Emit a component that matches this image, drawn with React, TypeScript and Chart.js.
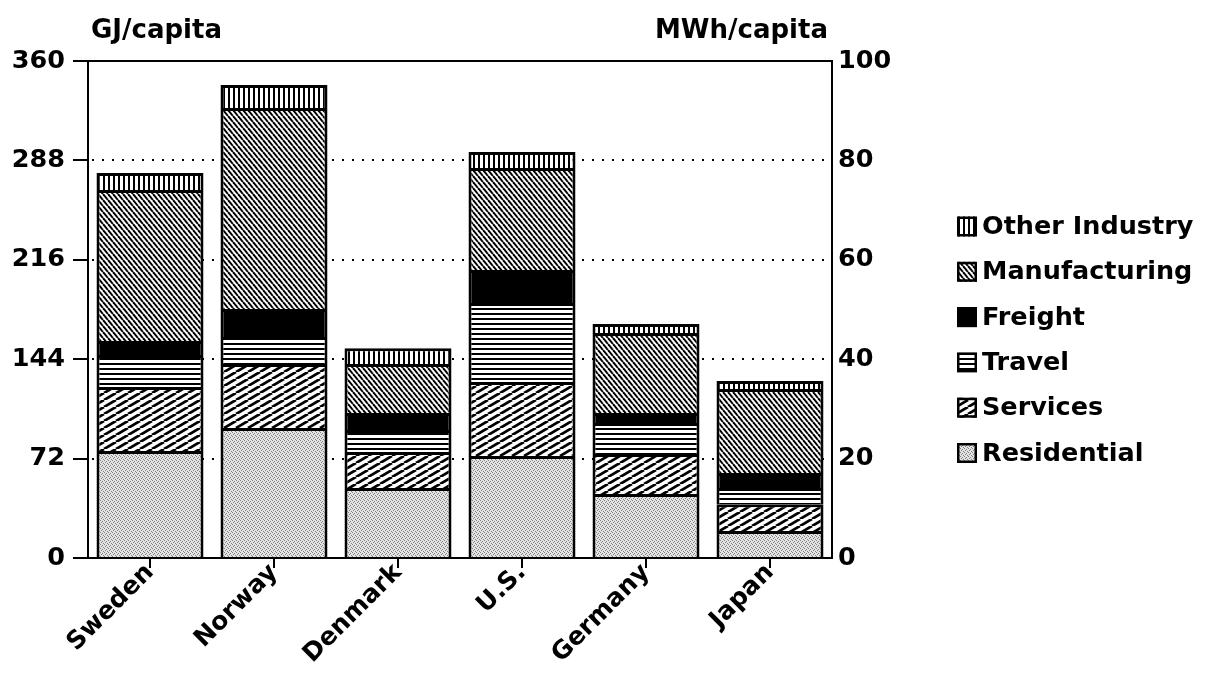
import React, { useEffect, useRef } from 'react';
import { Chart, registerables } from 'chart.js';

Chart.register(...registerables);

// ---- Data (GJ per capita) ----
const countries = ['Sweden', 'Norway', 'Denmark', 'U.S.', 'Germany', 'Japan'];
const residential = [77.5, 94.2, 50.7, 73.9, 46.4, 19.6];
const services = [46.4, 46.3, 26.1, 53.6, 28.9, 19.4];
const travel = [23.1, 19.5, 15.9, 57.2, 22.5, 11.7];
const freight = [10.2, 20.4, 12.3, 23.9, 7.2, 10.9];
const manufacturing = [109.3, 145.6, 35.5, 73.9, 58.0, 60.8];
const otherIndustry = [12.4, 16.6, 11.5, 11.5, 6.5, 5.8];

const seriesNames = ['Residential', 'Services', 'Travel', 'Freight', 'Manufacturing', 'Other Industry'];
const gjTicks = [0, 72, 144, 216, 288, 360];
const mwhTicks = [0, 20, 40, 60, 80, 100];
const leftTitle = 'GJ/capita';
const rightTitle = 'MWh/capita';

const FONT = 'DejaVu Sans';

function makePattern(kind: string): CanvasPattern | string {
  if (kind === 'solid') return '#000';
  const c = document.createElement('canvas');
  let w = 8;
  let h = 8;
  if (kind === 'services') { w = 12; h = 7; }
  if (kind === 'manufacturing') { w = 5; h = 6; }
  if (kind === 'travel') { w = 8; h = 5; }
  if (kind === 'other') { w = 5; h = 8; }
  if (kind === 'dots') { w = 4; h = 4; }
  c.width = w;
  c.height = h;
  const ctx = c.getContext('2d')!;
  ctx.fillStyle = '#fff';
  ctx.fillRect(0, 0, w, h);
  ctx.strokeStyle = '#000';
  ctx.fillStyle = '#000';
  if (kind === 'services') {
    ctx.lineWidth = 2.8;
    for (let k = -1; k <= 1; k++) {
      ctx.beginPath();
      ctx.moveTo(k * w, h);
      ctx.lineTo(k * w + w, 0);
      ctx.stroke();
    }
  } else if (kind === 'manufacturing') {
    ctx.lineWidth = 2;
    for (let k = -1; k <= 1; k++) {
      ctx.beginPath();
      ctx.moveTo(k * w, 0);
      ctx.lineTo(k * w + w, h);
      ctx.stroke();
    }
  } else if (kind === 'travel') {
    ctx.fillRect(0, 0, w, 2);
  } else if (kind === 'other') {
    ctx.fillRect(0, 0, 2, h);
  } else if (kind === 'dots') {
    ctx.fillStyle = '#e4e4e4';
    ctx.fillRect(0, 0, w, h);
    ctx.fillStyle = '#808080';
    ctx.fillRect(0, 0, 1, 1);
    ctx.fillRect(2, 1, 1, 1);
    ctx.fillRect(1, 2, 1, 1);
    ctx.fillRect(3, 3, 1, 1);
  }
  return ctx.createPattern(c, 'repeat')!;
}

export default function App() {
  const ref = useRef<HTMLCanvasElement | null>(null);

  useEffect(() => {
    if (!ref.current) return;
    const fills = [
      makePattern('dots'),
      makePattern('services'),
      makePattern('travel'),
      makePattern('solid'),
      makePattern('manufacturing'),
      makePattern('other'),
    ];
    const values = [residential, services, travel, freight, manufacturing, otherIndustry];

    const decorPlugin = {
      id: 'decor',
      beforeDatasetsDraw(chart: any) {
        const { ctx, chartArea } = chart;
        const y = chart.scales.y;
        ctx.save();
        ctx.strokeStyle = '#000';
        ctx.lineWidth = 2;
        ctx.setLineDash([2, 8]);
        gjTicks.slice(1, -1).forEach((v) => {
          const py = Math.round(y.getPixelForValue(v));
          ctx.beginPath();
          ctx.moveTo(chartArea.left + 4, py);
          ctx.lineTo(chartArea.right, py);
          ctx.stroke();
        });
        ctx.restore();
      },
      afterDraw(chart: any) {
        const { ctx, chartArea } = chart;
        const y = chart.scales.y;
        ctx.save();
        // top frame
        ctx.strokeStyle = '#000';
        ctx.lineWidth = 2;
        const ty = Math.round(y.getPixelForValue(360));
        ctx.beginPath();
        ctx.moveTo(chartArea.left, ty);
        ctx.lineTo(chartArea.right + 1, ty);
        ctx.stroke();
        // unit titles
        ctx.fillStyle = '#000';
        ctx.font = `bold 26px "${FONT}"`;
        ctx.textBaseline = 'alphabetic';
        ctx.textAlign = 'left';
        ctx.fillText(leftTitle, chartArea.left + 3, 30);
        ctx.textAlign = 'right';
        ctx.fillText(rightTitle, chartArea.right - 4, 30);
        // legend (top item = last dataset)
        const x0 = 949;
        const yc0 = 218.5;
        const step = 45.3;
        const box = 20;
        ctx.font = `bold 25.5px "${FONT}"`;
        ctx.textAlign = 'left';
        ctx.textBaseline = 'middle';
        for (let i = 0; i < seriesNames.length; i++) {
          const idx = seriesNames.length - 1 - i;
          const yc = yc0 + i * step;
          ctx.fillStyle = fills[idx] as any;
          ctx.fillRect(x0, yc - box / 2, box, box);
          ctx.lineWidth = 2.5;
          ctx.setLineDash([]);
          ctx.strokeStyle = '#000';
          ctx.strokeRect(x0 + 1.25, yc - box / 2 + 1.25, box - 2.5, box - 2.5);
          ctx.fillStyle = '#000';
          ctx.fillText(seriesNames[idx], x0 + box + 5, yc + 1);
        }
        ctx.restore();
      },
    };

    const tickFont = { family: FONT, size: 25.5, weight: 'bold' };

    const chart = new Chart(ref.current, {
      type: 'bar',
      data: {
        labels: countries,
        datasets: seriesNames.map((name, i) => ({
          label: name,
          data: values[i],
          backgroundColor: fills[i] as any,
          borderColor: '#000',
          borderWidth: 3,
          barPercentage: 0.863,
          categoryPercentage: 1,
          yAxisID: 'y',
        })),
      },
      options: {
        animation: false,
        responsive: true,
        maintainAspectRatio: false,
        layout: { padding: { top: 53, left: 0, right: 287, bottom: 0 } },
        plugins: {
          legend: { display: false },
          tooltip: { enabled: false },
          title: { display: false },
        },
        scales: {
          x: {
            stacked: true,
            grid: {
              offset: false,
              drawOnChartArea: false,
              drawTicks: true,
              tickLength: 10,
              color: '#000',
              lineWidth: 2,
            },
            border: { display: true, color: '#000', width: 2 },
            ticks: {
              color: '#000',
              font: { family: FONT, size: 25, weight: 'bold' },
              maxRotation: 45,
              minRotation: 45,
              padding: -10,
            },
            afterFit: (s: any) => { s.height = 116; },
          },
          y: {
            stacked: true,
            position: 'left',
            min: 0,
            max: 360,
            afterBuildTicks: (s: any) => { s.ticks = gjTicks.map((v) => ({ value: v })); },
            grid: {
              drawOnChartArea: false,
              drawTicks: true,
              tickLength: 15,
              color: '#000',
              lineWidth: 2,
            },
            border: { display: true, color: '#000', width: 2 },
            ticks: { color: '#000', font: tickFont, padding: 8 },
            afterFit: (s: any) => { s.width = 80; },
          },
          y1: {
            position: 'right',
            min: 0,
            max: 100,
            afterBuildTicks: (s: any) => { s.ticks = mwhTicks.map((v) => ({ value: v })); },
            grid: { display: false, drawOnChartArea: false, drawTicks: false },
            border: { display: true, color: '#000', width: 2 },
            ticks: { color: '#000', font: tickFont, padding: 6 },
            afterFit: (s: any) => { s.width = 80; },
          },
        },
      } as any,
      plugins: [decorPlugin],
    });
    return () => chart.destroy();
  }, []);

  return (
    <div style={{ width: 1191, height: 666, position: 'relative' }}>
      <canvas ref={ref} />
    </div>
  );
}
